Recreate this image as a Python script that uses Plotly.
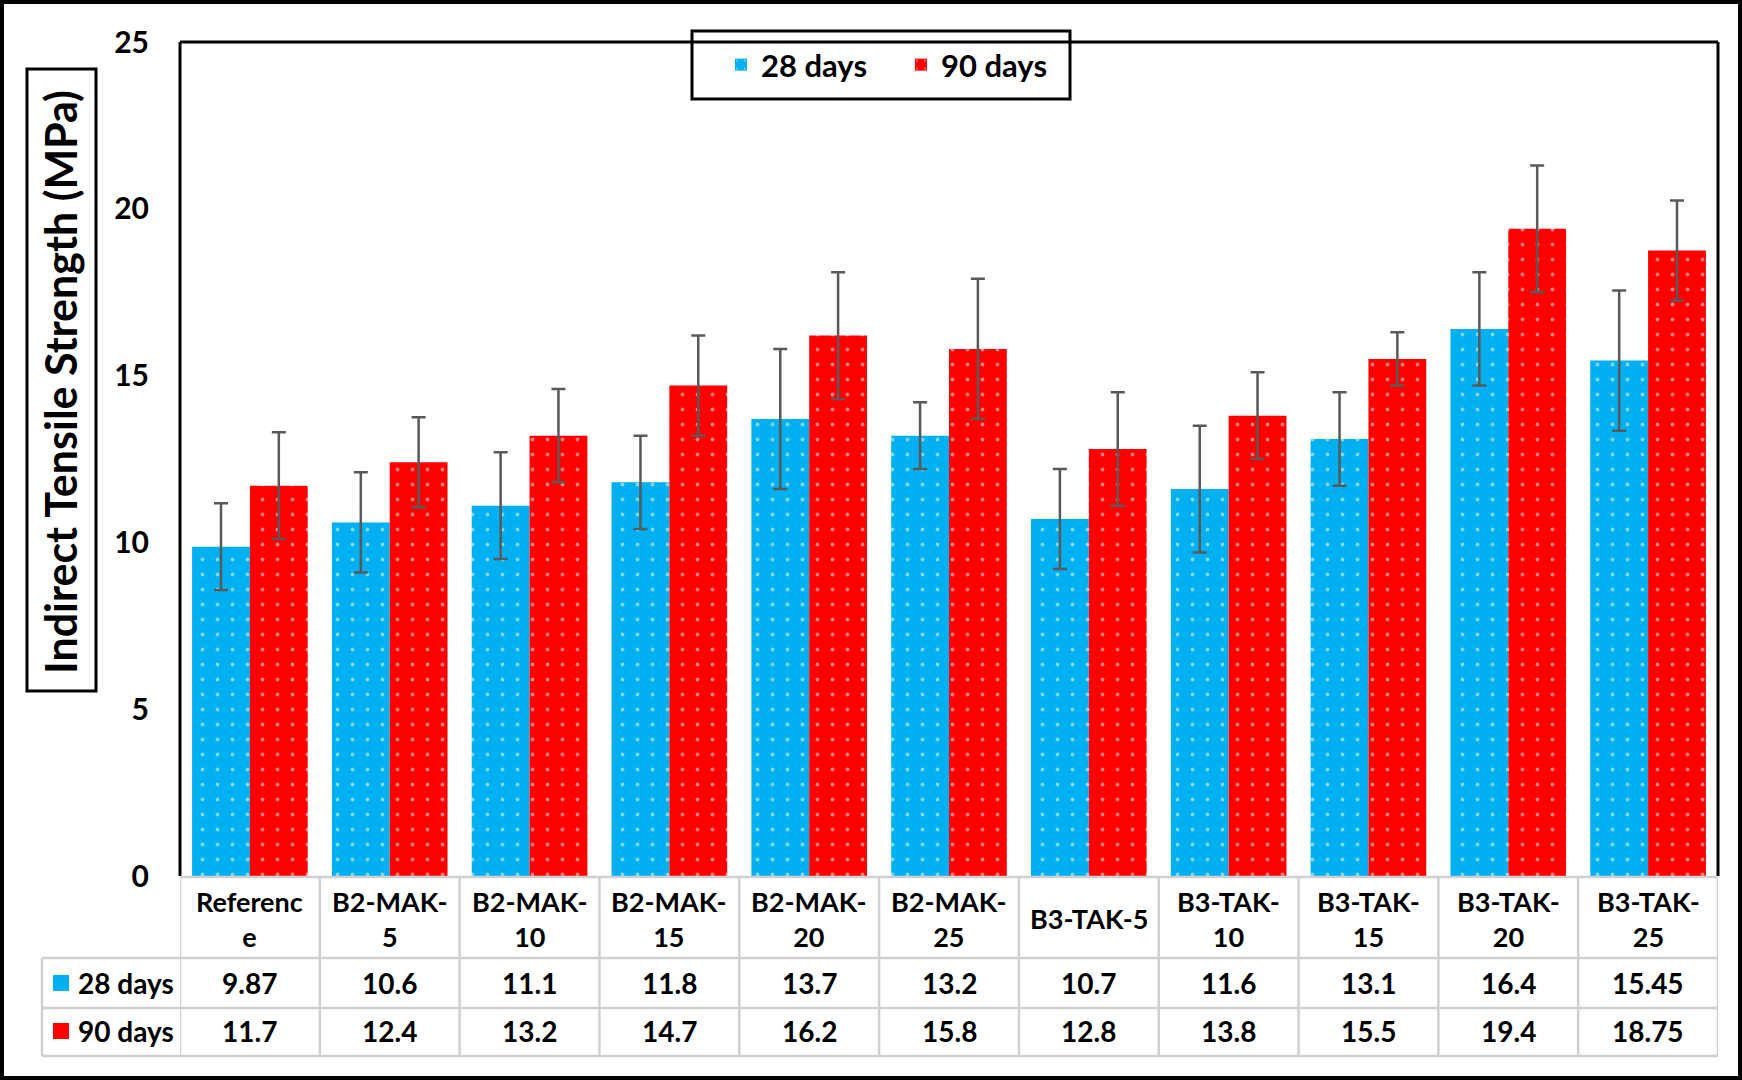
import plotly.graph_objects as go

categories = ["Reference", "B2-MAK-5", "B2-MAK-10", "B2-MAK-15", "B2-MAK-20", "B2-MAK-25",
              "B3-TAK-5", "B3-TAK-10", "B3-TAK-15", "B3-TAK-20", "B3-TAK-25"]
header_labels = ["Referenc<br>e", "B2-MAK-<br>5", "B2-MAK-<br>10", "B2-MAK-<br>15", "B2-MAK-<br>20",
                 "B2-MAK-<br>25", "B3-TAK-5", "B3-TAK-<br>10", "B3-TAK-<br>15", "B3-TAK-<br>20", "B3-TAK-<br>25"]
days28 = [9.87, 10.6, 11.1, 11.8, 13.7, 13.2, 10.7, 11.6, 13.1, 16.4, 15.45]
days90 = [11.7, 12.4, 13.2, 14.7, 16.2, 15.8, 12.8, 13.8, 15.5, 19.4, 18.75]
err28 = [1.3, 1.5, 1.6, 1.4, 2.1, 1.0, 1.5, 1.9, 1.4, 1.7, 2.1]
err90 = [1.6, 1.35, 1.4, 1.5, 1.9, 2.1, 1.7, 1.3, 0.8, 1.9, 1.5]
series_names = ["28 days", "90 days"]
yticks = [0, 5, 10, 15, 20, 25]

BLUE = "#00B0F0"
RED = "#FF0000"
FONT = "Lato"
W, H = 1742, 1080
ML, MR, MT, MB = 180, 24, 42, 204
PW = W - ML - MR
PH = H - MT - MB


def px(x):
    return (x - ML) / PW


def py(y):
    return (H - MB - y) / PH


fig = go.Figure()
for name, vals, errs, col in [(series_names[0], days28, err28, BLUE), (series_names[1], days90, err90, RED)]:
    fig.add_trace(go.Bar(
        x=categories, y=vals, name=name,
        marker=dict(color=col, line=dict(width=0),
                    pattern=dict(shape=".", fgcolor="white", size=15, solidity=0.05)),
        error_y=dict(type="data", array=errs, color="#595959", thickness=2.5, width=7),
    ))

shapes = []
# outer frame
shapes.append(dict(type="rect", xref="paper", yref="paper", x0=px(2), x1=px(1740), y0=py(1078), y1=py(2),
                   line=dict(color="black", width=4)))
# plot frame (left, top, right)
for (x0, y0, x1, y1) in [(180, 42, 180, 876), (180, 42, 1718, 42), (1718, 42, 1718, 876)]:
    shapes.append(dict(type="line", xref="paper", yref="paper", x0=px(x0), x1=px(x1), y0=py(y0), y1=py(y1),
                       line=dict(color="black", width=3)))
# legend box
shapes.append(dict(type="rect", xref="paper", yref="paper", x0=px(692), x1=px(1070), y0=py(99), y1=py(31),
                   line=dict(color="black", width=3), fillcolor="white", layer="below"))
# y title box
shapes.append(dict(type="rect", xref="paper", yref="paper", x0=px(27), x1=px(96), y0=py(691), y1=py(69),
                   line=dict(color="black", width=3)))
# table grid
GRID = "#D0D0D0"
shapes.append(dict(type="line", xref="paper", yref="paper", x0=px(180), x1=px(1718), y0=py(877), y1=py(877),
                   line=dict(color=GRID, width=2.5)))
for yy in [958, 1008, 1056]:
    shapes.append(dict(type="line", xref="paper", yref="paper", x0=px(42), x1=px(1718), y0=py(yy), y1=py(yy),
                       line=dict(color=GRID, width=2.5)))
shapes.append(dict(type="line", xref="paper", yref="paper", x0=px(42), x1=px(42), y0=py(958), y1=py(1056),
                   line=dict(color=GRID, width=2.5)))
for k in range(len(categories) + 1):
    shapes.append(dict(type="line", xref="x", yref="paper", x0=k - 0.5, x1=k - 0.5, y0=py(877), y1=py(1056),
                       line=dict(color=GRID, width=2.5)))
# row label squares
for yy, col in [(983, BLUE), (1031, RED)]:
    shapes.append(dict(type="rect", xref="paper", yref="paper", x0=px(53), x1=px(69), y0=py(yy + 8), y1=py(yy - 8),
                       line=dict(width=0), fillcolor=col))

annotations = []
annotations.append(dict(text="Indirect Tensile Strength (MPa)", xref="paper", yref="paper",
                        x=px(60), y=py(382), textangle=-90, showarrow=False,
                        font=dict(family=FONT, size=43, color="black", weight="bold"),
                        xanchor="center", yanchor="middle"))
for i, lab in enumerate(header_labels):
    annotations.append(dict(text=lab, xref="x", yref="paper", x=categories[i], y=py(919),
                            showarrow=False, font=dict(family=FONT, size=27, color="black", weight="bold"),
                            xanchor="center", yanchor="middle"))
for row_y, vals in [(983, days28), (1031, days90)]:
    for i, v in enumerate(vals):
        annotations.append(dict(text=format(v, "g"), xref="x", yref="paper", x=categories[i],
                                y=py(row_y), showarrow=False,
                                font=dict(family=FONT, size=28, color="black", weight="bold"),
                                xanchor="center", yanchor="middle"))
for row_y, name in [(983, series_names[0]), (1031, series_names[1])]:
    annotations.append(dict(text=name, xref="paper", yref="paper", x=px(76), y=py(row_y),
                            showarrow=False, font=dict(family=FONT, size=28, color="black", weight="bold"),
                            xanchor="left", yanchor="middle"))

fig.update_layout(
    width=W, height=H,
    margin=dict(l=ML, r=MR, t=MT, b=MB, autoexpand=False),
    paper_bgcolor="white", plot_bgcolor="white",
    barmode="group", bargap=0.173, bargroupgap=0,
    font=dict(family=FONT, color="black"),
    xaxis=dict(range=[-0.5, len(categories) - 0.5], showticklabels=False, showgrid=False, zeroline=False,
               showline=False, ticks=""),
    yaxis=dict(range=[0, 25], tickvals=yticks, ticktext=[str(t) for t in yticks],
               showgrid=False, zeroline=False, showline=False, ticks="",
               tickfont=dict(family=FONT, size=30, color="black", weight="bold"), ticklabelstandoff=30),
    showlegend=True,
    legend=dict(orientation="h", x=px(721), y=py(65), xanchor="left", yanchor="middle",
                bgcolor="rgba(0,0,0,0)", borderwidth=0, entrywidth=135, entrywidthmode="pixels",
                font=dict(family=FONT, size=31, color="black", weight="bold"), traceorder="normal"),
    shapes=shapes, annotations=annotations,
)

fig.write_html("out.html", config={"displayModeBar": False},
               post_script="document.body.style.margin='0';document.body.style.overflow='hidden';")
